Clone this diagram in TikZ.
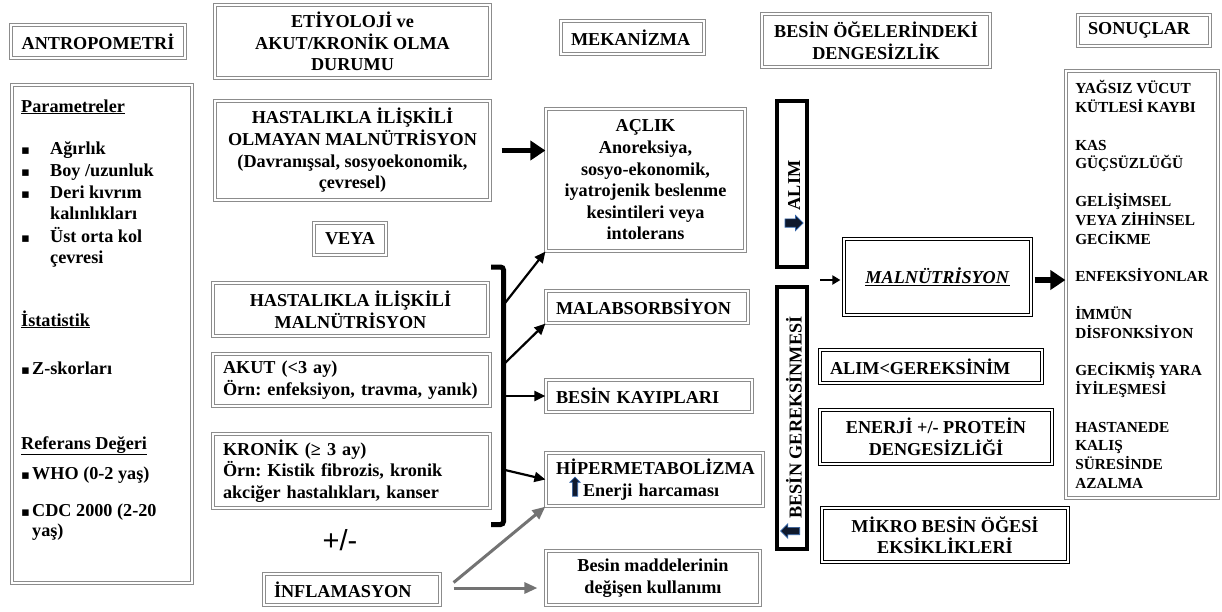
\documentclass[tikz,border=0pt]{standalone}
\usepackage{fontspec}
\setmainfont{Liberation Serif}
\setsansfont{Liberation Sans}
\newfontfamily\bulletfont{DejaVu Sans}
\usepackage{tikz}
\usetikzlibrary{positioning,calc,arrows.meta,shapes.arrows}
\definecolor{framegray}{RGB}{140,140,140}
\definecolor{arrowgray}{RGB}{115,115,115}
\definecolor{iconfill}{RGB}{15,25,45}
\definecolor{iconblue}{RGB}{50,100,170}
\newcommand{\listdot}{\makebox[29pt][l]{\bulletfont\fontsize{13}{13}\selectfont ▪}}
\newcommand{\listdotshort}{\makebox[11pt][l]{\bulletfont\fontsize{13}{13}\selectfont ▪}}
\newcommand{\listgap}{\hspace*{29pt}}
\frenchspacing

\begin{document}
\begin{tikzpicture}[x=1pt,y=-1pt,
	every node/.style={inner sep=0pt,font=\bfseries\fontsize{18.2}{21.6}\selectfont},
	graybox/.style={draw=framegray,double=white,double distance=1.6pt,line width=1.2pt},
	blackbox/.style={draw=black,double=white,double distance=1.7pt,line width=1.2pt},
	heavybox/.style={draw=black,line width=4pt},
	leftbox/.style={align=left,inner xsep=10pt},
	midbox/.style={align=center},
	bigarrow/.style={line width=5.5pt,-{Triangle[length=15pt,width=19pt]}},
	thinarrow/.style={line width=2.2pt,-{Triangle[length=11pt,width=10pt]}},
	grayarrow/.style={arrowgray,line width=3pt,-{Triangle[length=13pt,width=11pt]}},
	icon/.style={single arrow,fill=iconfill,draw=iconblue,line width=0.7pt,inner sep=3.8pt,single arrow head extend=3.5pt},
	]
	\useasboundingbox (0,0) rectangle (1222,611);
	
	% the headers
	\node[graybox,minimum width=174pt,minimum height=33pt] (antro) at (98,41.5) {ANTROPOMETRİ};
	\node[graybox,midbox,minimum width=275pt,minimum height=73pt] (etio) at (352.5,41.5) {ETİYOLOJİ ve\\AKUT/KRONİK OLMA\\DURUMU};
	\node[graybox,leftbox,text width=123pt,minimum height=33pt] (mech) at (632.5,37.5) {MEKANİZMA};
	\node[graybox,midbox,minimum width=228pt,minimum height=53pt] (imbal) at (876,40.5) {BESİN ÖĞELERİNDEKİ\\DENGESİZLİK};
	\node[graybox,leftbox,text width=112pt,minimum height=31pt] (outc) at (1144,30.5) {SONUÇLAR};
	
	% the anthropometry column
	\node[graybox,minimum width=180pt,minimum height=498pt] (antrobody) at (102,334) {};
	\node[anchor=base west] (parhead) at (21,112) {\underline{Parametreler}};
	\foreach \txt/\yy [count=\i] in {{\listdot Ağırlık}/154, {\listdot Boy /uzunluk}/176,
		{\listdot Deri kıvrım}/198, {\listgap kalınlıkları}/219,
		{\listdot Üst orta kol}/242, {\listgap çevresi}/263}
	\node[anchor=base west] (par\i) at (21,\yy) {\txt};
	\node[anchor=base west] (stathead) at (21,326) {\underline{İstatistik}};
	\node[anchor=base west] (zscore) at (21,374) {\listdotshort Z-skorları};
	\node[anchor=base west] (refhead) at (21,449) {\underline{Referans Değeri}};
	\node[anchor=base west] (who) at (21,479) {\listdotshort WHO (0-2 yaş)};
	\node[anchor=base west] (cdc) at (21,516) {\listdotshort CDC 2000 (2-20};
	\node[anchor=base west] (cdcend) at (32,536) {yaş)};
	
	% the etiology column
	\node[graybox,midbox,minimum width=275pt,minimum height=99pt] (nondis) at (352.5,150.5) {HASTALIKLA İLİŞKİLİ\\OLMAYAN MALNÜTRİSYON\\(Davranışsal, sosyoekonomik,\\çevresel)};
	\node[graybox,minimum width=72pt,minimum height=32pt] (veya) at (350,239) {VEYA};
	\node[graybox,midbox,minimum width=275pt,minimum height=53pt] (dis) at (350.5,309.5) {HASTALIKLA İLİŞKİLİ\\MALNÜTRİSYON};
	\node[graybox,leftbox,text width=257pt,minimum height=52pt] (acute) at (351.5,380) {AKUT (<3 ay)\\Örn: enfeksiyon, travma, yanık)};
	\node[graybox,leftbox,text width=257pt,minimum height=74pt] (chronic) at (351.5,471) {KRONİK (≥ 3 ay)\\Örn: Kistik fibrozis, kronik\\akciğer hastalıkları, kanser};
	\node[font=\sffamily\fontsize{29}{29}\selectfont] (plusminus) at (340,540) {+/-};
	\node[graybox,leftbox,text width=156pt,minimum height=31pt] (infl) at (352,589.5) {İNFLAMASYON};
	
	% the mechanism column
	\node[graybox,midbox,minimum width=199pt,minimum height=142pt] (starv) at (645.5,180) {AÇLIK\\Anoreksiya,\\sosyo-ekonomik,\\iyatrojenik beslenme\\kesintileri veya\\intolerans};
	\node[graybox,leftbox,text width=182pt,minimum height=32pt] (malab) at (647,307) {MALABSORBSİYON};
	\node[graybox,leftbox,text width=186pt,minimum height=32pt] (loss) at (649,396) {BESİN KAYIPLARI};
	\node[graybox,leftbox,text width=197pt,minimum height=53pt] (hyper) at (654.5,479.5) {HİPERMETABOLİZMA\\\hspace*{27pt}Enerji harcaması};
	\node[icon,shape border rotate=90,minimum height=19pt,inner sep=2.3pt,single arrow head extend=2.5pt] (hypicon) at (575,488) {};
	\node[graybox,midbox,minimum width=214pt,minimum height=54pt] (util) at (653,578) {Besin maddelerinin\\değişen kullanımı};
	
	% the imbalance column
	\node[heavybox,minimum width=30pt,minimum height=166pt] (alim) at (792,184) {};
	\node[rotate=90] (alimtxt) at (794,185.5) {ALIM};
	\node[icon,minimum height=18pt] (alimicon) at (792,223) {};
	\node[heavybox,minimum width=30pt,minimum height=262pt] (req) at (792,418) {};
	\node[rotate=90] (reqtxt) at (794,417.5) {BESİN GEREKSİNMESİ};
	\node[icon,shape border rotate=180,minimum height=19pt,inner sep=3.3pt] (reqicon) at (792,531) {};
	\node[blackbox,minimum width=187pt,minimum height=76pt] (maln) at (937.5,277) {\underline{\textit{MALNÜTRİSYON}}};
	\node[blackbox,leftbox,text width=202pt,minimum height=33pt] (lessint) at (931,366.5) {ALIM<GEREKSİNİM};
	\node[blackbox,midbox,minimum width=232pt,minimum height=54pt] (enprot) at (936,437) {ENERJİ +/- PROTEİN\\DENGESİZLİĞİ};
	\node[blackbox,midbox,minimum width=246pt,minimum height=54pt] (micro) at (945,535) {MİKRO BESİN ÖĞESİ\\EKSİKLİKLERİ};
	
	% the outcomes
	\node[graybox,align=left,minimum width=152pt,minimum height=427pt,font=\bfseries\fontsize{15.3}{18.8}\selectfont] (outcbody) at (1142,284.5) {YAĞSIZ VÜCUT\\KÜTLESİ KAYBI\\[18.8pt]KAS\\GÜÇSÜZLÜĞÜ\\[18.8pt]GELİŞİMSEL\\VEYA ZİHİNSEL\\GECİKME\\[18.8pt]ENFEKSİYONLAR\\[18.8pt]İMMÜN\\DİSFONKSİYON\\[18.8pt]GECİKMİŞ YARA\\İYİLEŞMESİ\\[18.8pt]HASTANEDE\\KALIŞ\\SÜRESİNDE\\AZALMA};
	
	% the bracket
	\coordinate (brtop) at (491,267);
	\coordinate (brbot) at (491,524.5);
	\draw[line width=5pt,rounded corners=3pt] (brtop) -- ++(12.5,0) |- (brbot);
	\coordinate (b1) at (505,303);
	\coordinate (b2) at (505,363);
	\coordinate (b3) at (505,396);
	\coordinate (b4) at (505,470);
	
	% the edges
	\draw[bigarrow,shorten <=11pt] (nondis.east) -- (nondis.east -| starv.west);
	\draw[thinarrow] (b1) -- (starv.south west);
	\draw[thinarrow] (b2) -- (malab.south west);
	\draw[thinarrow] (b3) -- (b3 -| loss.west);
	\draw[thinarrow] (b4) -- (hyper.west);
	\draw[grayarrow] ($(infl.east)+(13,-7)$) -- (hyper.south west);
	\draw[grayarrow] ($(infl.east)+(13,-1.5)$) -- ($(util.west |- infl.east)+(-8,-1.5)$);
	\coordinate (intake) at (820,280);
	\draw[line width=2.5pt,-{Triangle[length=8pt,width=9pt]},shorten >=3pt] (intake) -- (intake -| maln.west);
	\draw[bigarrow] ($(maln.east)+(3,3)$) -- ($(outcbody.west |- maln.east)+(0,3)$);
\end{tikzpicture}
\end{document}
